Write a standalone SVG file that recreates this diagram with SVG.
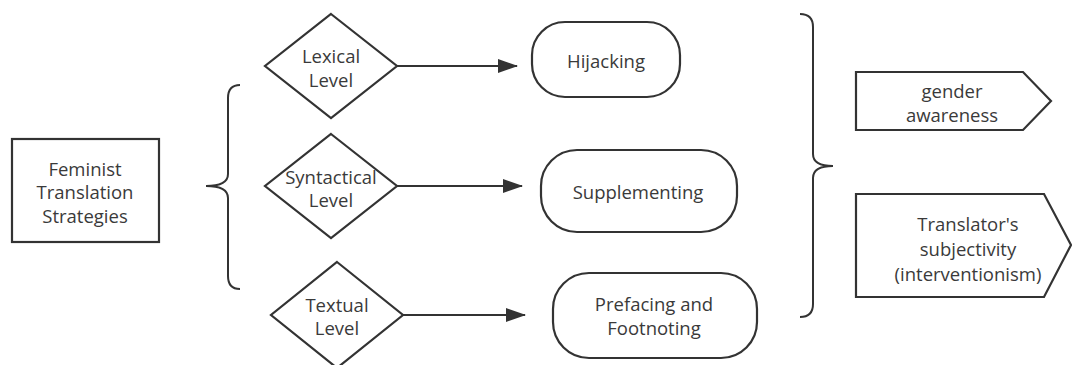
<svg xmlns="http://www.w3.org/2000/svg" width="1072" height="365" viewBox="0 0 1072 365">
<style>
.s{fill:#fff;stroke:#333;stroke-width:2.2}
.b{fill:none;stroke:#333;stroke-width:2}
.t{font-family:"Open Sans","Noto Sans",sans-serif;font-size:18.5px;fill:#3a3a3a;text-anchor:middle;dominant-baseline:central}
.c{stroke:#333;stroke-width:2.2;fill:none}
</style>
<defs>
<marker id="ah" markerWidth="20" markerHeight="14" refX="19" refY="7" orient="auto" markerUnits="userSpaceOnUse">
<path d="M0,0 L20,7 L0,14 Z" fill="#333"/>
</marker>
</defs>
<rect width="1072" height="365" fill="#fff"/>
<g id="connectors">
<line class="c" x1="397" y1="66" x2="517" y2="66" marker-end="url(#ah)"/>
<line class="c" x1="397" y1="186" x2="522" y2="186" marker-end="url(#ah)"/>
<line class="c" x1="403" y1="315" x2="525" y2="315" marker-end="url(#ah)"/>
<path class="b" d="M240,85 Q228,85 228,98 L228,174 Q228,186 206,186 Q228,186 228,198 L228,276 Q228,289 240,289"/>
<path class="b" d="M800,14 Q813,14 813,27 L813,154 Q813,166 833,166 Q813,166 813,178 L813,304 Q813,317 800,317"/>
</g>
<g id="root">
<rect class="s" x="12" y="139" width="147" height="103"/>
<text class="t" x="85" y="168">Feminist</text>
<text class="t" x="85" y="191">Translation</text>
<text class="t" x="85" y="215">Strategies</text>
</g>
<g id="lexical">
<polygon class="s" points="331,14 397,66 331,118 265,66"/>
<text class="t" x="331" y="55">Lexical</text>
<text class="t" x="331" y="79">Level</text>
</g>
<g id="syntactical">
<polygon class="s" points="331,134 397,186 331,238 265,186"/>
<text class="t" x="331" y="176">Syntactical</text>
<text class="t" x="331" y="199">Level</text>
</g>
<g id="textual">
<polygon class="s" points="337,262 403,315 337,368 271,315"/>
<text class="t" x="337" y="304">Textual</text>
<text class="t" x="337" y="327">Level</text>
</g>
<g id="hijacking">
<rect class="s" x="532" y="22" width="148" height="75" rx="33" ry="33"/>
<text class="t" x="606" y="60">Hijacking</text>
</g>
<g id="supplementing">
<rect class="s" x="541" y="150" width="196" height="82" rx="36" ry="36"/>
<text class="t" x="638" y="191">Supplementing</text>
</g>
<g id="prefacing">
<rect class="s" x="553" y="273" width="204" height="85" rx="36" ry="36"/>
<text class="t" x="654" y="303">Prefacing and</text>
<text class="t" x="654" y="327">Footnoting</text>
</g>
<g id="gender">
<polygon class="s" points="856,72 1023,72 1051,101 1023,130 856,130"/>
<text class="t" x="952" y="90">gender</text>
<text class="t" x="952" y="114">awareness</text>
</g>
<g id="subjectivity">
<polygon class="s" points="856,194 1044,194 1071,245 1044,297 856,297"/>
<text class="t" x="968" y="223">Translator's</text>
<text class="t" x="968" y="248">subjectivity</text>
<text class="t" x="968" y="273">(interventionism)</text>
</g>
</svg>
